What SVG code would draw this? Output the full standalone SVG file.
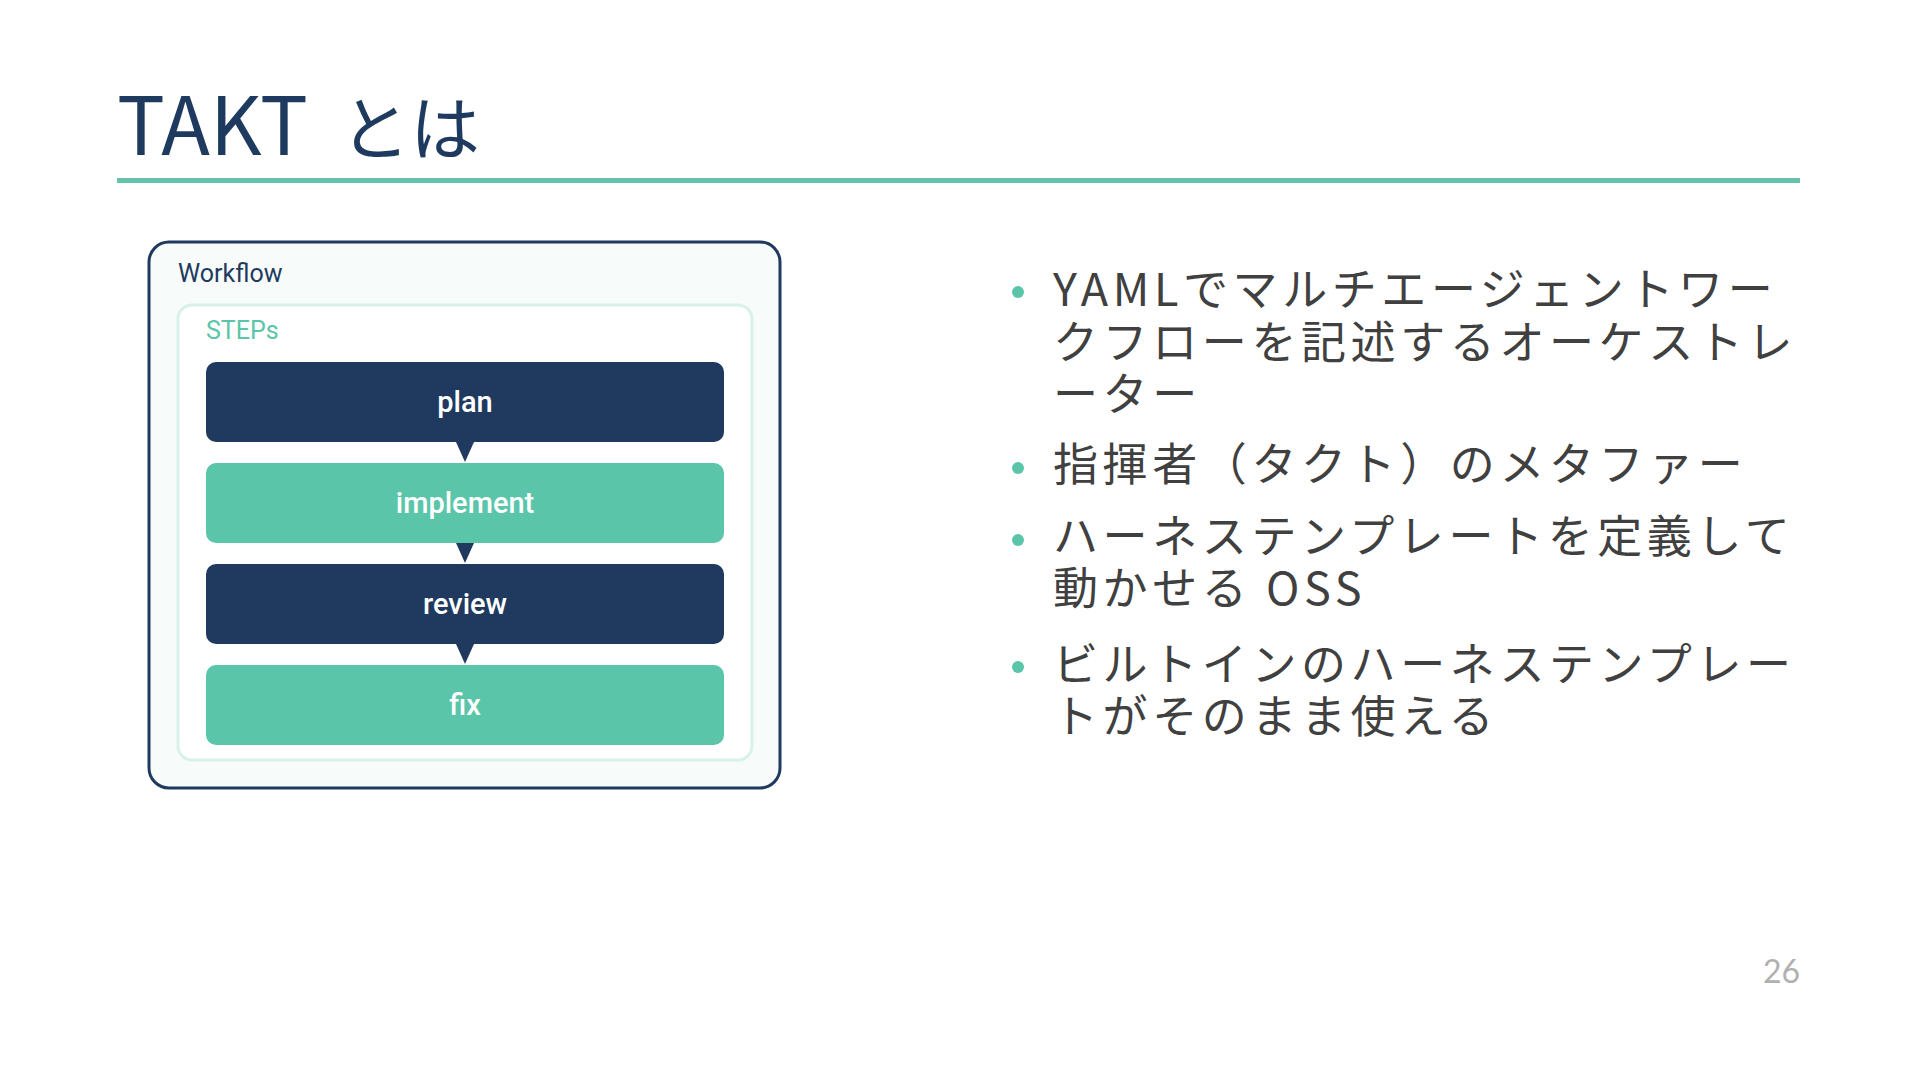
<svg xmlns="http://www.w3.org/2000/svg" width="1920" height="1080" viewBox="0 0 1920 1080">
<style>
.title{font-family:"Noto Sans CJK JP","Noto Sans",sans-serif;font-size:80px;font-weight:400;fill:#1e3a5f}
.bul{font-family:"Noto Sans CJK JP","Noto Sans",sans-serif;font-size:45px;fill:#404040;letter-spacing:4.6px}
.step{font-family:Roboto,"Noto Sans",sans-serif;font-size:29px;font-weight:500;fill:#ffffff;text-anchor:middle}
.navy{fill:#1f3a5e}
.teal{fill:#5bc5aa}
.dot{fill:#5bc5aa}
.lbl{font-family:Roboto,"Noto Sans",sans-serif;font-size:25px;font-weight:400}
</style>
<rect width="1920" height="1080" fill="#ffffff"/>
<g id="title">
<text class="title" x="117" y="155">TAKT<tspan x="340" font-size="70">とは</tspan></text>
<rect x="117" y="178" width="1683" height="5" fill="#66c2ad"/>
</g>
<g id="workflow">
<rect x="149" y="242" width="631" height="546" rx="20" fill="#f7fcfb" stroke="#1f3a5e" stroke-width="3"/>
<text class="lbl" x="178" y="282" fill="#1f3a5e">Workflow</text>
</g>
<g id="steps">
<rect x="178" y="305" width="574" height="455" rx="14" fill="#ffffff" stroke="#d8f1eb" stroke-width="3"/>
<text class="lbl" x="206" y="339" fill="#5bc5aa">STEPs</text>
</g>
<g id="plan">
<rect class="navy" x="206" y="362" width="518" height="80" rx="10"/>
<text class="step" x="465" y="412">plan</text>
</g>
<g id="implement">
<rect class="teal" x="206" y="463" width="518" height="80" rx="10"/>
<text class="step" x="465" y="513">implement</text>
</g>
<g id="review">
<rect class="navy" x="206" y="564" width="518" height="80" rx="10"/>
<text class="step" x="465" y="614">review</text>
</g>
<g id="fix">
<rect class="teal" x="206" y="665" width="518" height="80" rx="10"/>
<text class="step" x="465" y="715">fix</text>
</g>
<g id="connectors">
<polygon class="navy" points="456,442 474,442 465,462"/>
<polygon class="navy" points="456,543 474,543 465,563"/>
<polygon class="navy" points="456,644 474,644 465,664"/>
</g>
<g id="bullets">
<circle class="dot" cx="1018" cy="292" r="6"/>
<text class="bul" x="1053" y="306">YAMLでマルチエージェントワー</text>
<text class="bul" x="1053" y="359">クフローを記述するオーケストレ</text>
<text class="bul" x="1053" y="411">ーター</text>
<circle class="dot" cx="1018" cy="468" r="6"/>
<text class="bul" x="1053" y="481">指揮者（タクト）のメタファー</text>
<circle class="dot" cx="1018" cy="540" r="6"/>
<text class="bul" x="1053" y="553">ハーネステンプレートを定義して</text>
<text class="bul" x="1053" y="605">動かせる OSS</text>
<circle class="dot" cx="1018" cy="667" r="6"/>
<text class="bul" x="1053" y="681">ビルトインのハーネステンプレー</text>
<text class="bul" x="1053" y="733">トがそのまま使える</text>
</g>
<text x="1800" y="983" text-anchor="end" font-family="Lato,'Noto Sans',sans-serif" font-size="32" fill="#b0b0b0">26</text>
</svg>
